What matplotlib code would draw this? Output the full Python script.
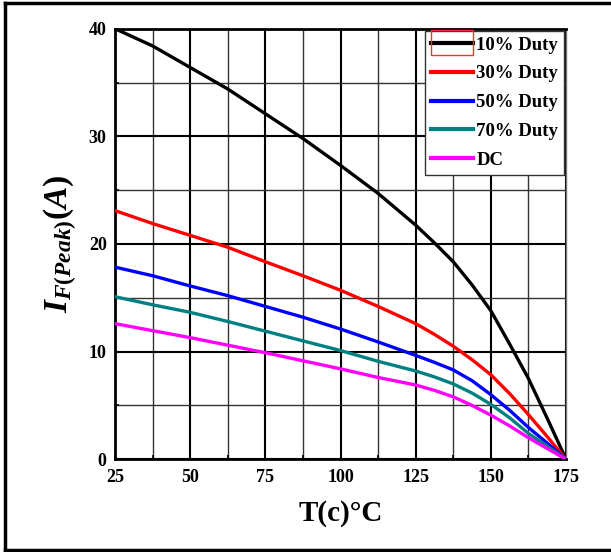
import matplotlib
matplotlib.use("Agg")
import matplotlib.pyplot as plt
import matplotlib.ticker as ticker
from matplotlib.lines import Line2D
from matplotlib.patches import Rectangle

# values
TEMP = [25, 37.5, 50, 62.5, 75, 87.5, 100, 112.5, 125, 131.25, 137.5, 143.75, 150, 156.25, 162.5, 168.75, 175]
DUTY_10 = [40.0, 38.4, 36.4, 34.4, 32.1, 29.8, 27.3, 24.7, 21.75, 20.1, 18.35, 16.2, 13.8, 10.7, 7.5, 3.8, 0.0]
DUTY_30 = [23.1, 21.9, 20.8, 19.7, 18.35, 17.05, 15.7, 14.2, 12.6, 11.6, 10.5, 9.25, 7.85, 6.1, 4.15, 2.1, 0.0]
DUTY_50 = [17.85, 17.05, 16.1, 15.2, 14.2, 13.2, 12.1, 10.9, 9.65, 9.0, 8.3, 7.3, 6.0, 4.55, 2.95, 1.5, 0.0]
DUTY_70 = [15.1, 14.35, 13.65, 12.8, 11.9, 11.0, 10.1, 9.1, 8.2, 7.65, 7.0, 6.15, 5.1, 3.85, 2.4, 1.2, 0.0]
DC = [12.6, 11.95, 11.3, 10.6, 9.9, 9.15, 8.4, 7.6, 6.9, 6.4, 5.8, 5.0, 4.1, 3.1, 2.0, 1.0, 0.0]

SERIES = [("10% Duty", DUTY_10, "black"), ("30% Duty", DUTY_30, "#FF0000"),
          ("50% Duty", DUTY_50, "#0000FF"), ("70% Duty", DUTY_70, "#008080"),
          ("DC", DC, "#FF00FF")]

X_TICKS = [25, 50, 75, 100, 125, 150, 175]
Y_TICKS = [0, 10, 20, 30, 40]

plt.rcParams.update({"font.family": "Liberation Serif", "font.weight": "bold",
                     "mathtext.fontset": "custom",
                     "mathtext.it": "Liberation Serif:italic:bold",
                     "mathtext.rm": "Liberation Serif:bold",
                     "mathtext.bf": "Liberation Serif:bold"})

fig = plt.figure(figsize=(6.11, 5.52), dpi=100)
ax = fig.add_axes([0.1882, 0.168, 0.7382, 0.780])

for label, vals, color in SERIES:
    ax.plot(TEMP, vals, color=color, lw=2.4, label=label, solid_joinstyle="round", zorder=3)

ax.set_xlim(25, 175)
ax.set_ylim(0, 40)
ax.xaxis.set_major_locator(ticker.FixedLocator(X_TICKS))
ax.xaxis.set_minor_locator(ticker.MultipleLocator(12.5))
ax.yaxis.set_major_locator(ticker.FixedLocator(Y_TICKS))
ax.yaxis.set_minor_locator(ticker.MultipleLocator(5))

ax.grid(True, which="major", color="black", lw=1.5)
ax.grid(True, which="minor", color="#333333", lw=1.0)
ax.set_axisbelow(True)
ax.tick_params(which="both", direction="in", length=3, width=1.2, colors="black")
ax.tick_params(axis="x", pad=7, labelsize=13)
ax.tick_params(axis="y", pad=6, labelsize=13)
for lbl in ax.get_xticklabels() + ax.get_yticklabels():
    lbl.set_fontweight("bold")

for side in ["left", "bottom", "top"]:
    ax.spines[side].set_linewidth(2.0)
    ax.spines[side].set_color("black")
ax.spines["right"].set_linewidth(1.0)
ax.spines["right"].set_color("#777777")

ax.set_xlabel("T(c)°C", fontsize=21, fontweight="bold")
ax.xaxis.set_label_coords(0.5, -0.125)
ax.set_ylabel(r"$I_{F(Peak)}(A)$", fontsize=24)
ax.yaxis.set_label_coords(-0.122, 0.5)
ax.yaxis.label.set_va("center")
ax.xaxis.label.set_va("center")

leg = ax.legend(loc="upper right", borderaxespad=0.1, fancybox=False, framealpha=1,
                edgecolor="#333333", handlelength=2.2, handletextpad=0.2,
                labelspacing=0.62, borderpad=0.32,
                prop={"family": "Liberation Serif", "weight": "bold", "size": 13.5})
leg.get_frame().set_linewidth(1.0)
for h in leg.legend_handles:
    h.set_linewidth(3.0)

# red selection box around the first legend handle, as in the source image
fig.canvas.draw()
bb = leg.legend_handles[0].get_window_extent().transformed(fig.transFigure.inverted())
fig.add_artist(Rectangle((bb.x0, bb.y0 - 0.022), bb.width, 0.045, transform=fig.transFigure,
                         fill=False, edgecolor="#FF3030", lw=1.0))

# outer frame (left, top, bottom)
for xs, ys in [([0.009, 0.009], [0.004, 0.994]), ([0.009, 1.0], [0.994, 0.994]),
               ([0.009, 1.0], [0.004, 0.004])]:
    fig.add_artist(Line2D(xs, ys, color="black", lw=2.5, transform=fig.transFigure))

fig.savefig("out.png", dpi=100)
